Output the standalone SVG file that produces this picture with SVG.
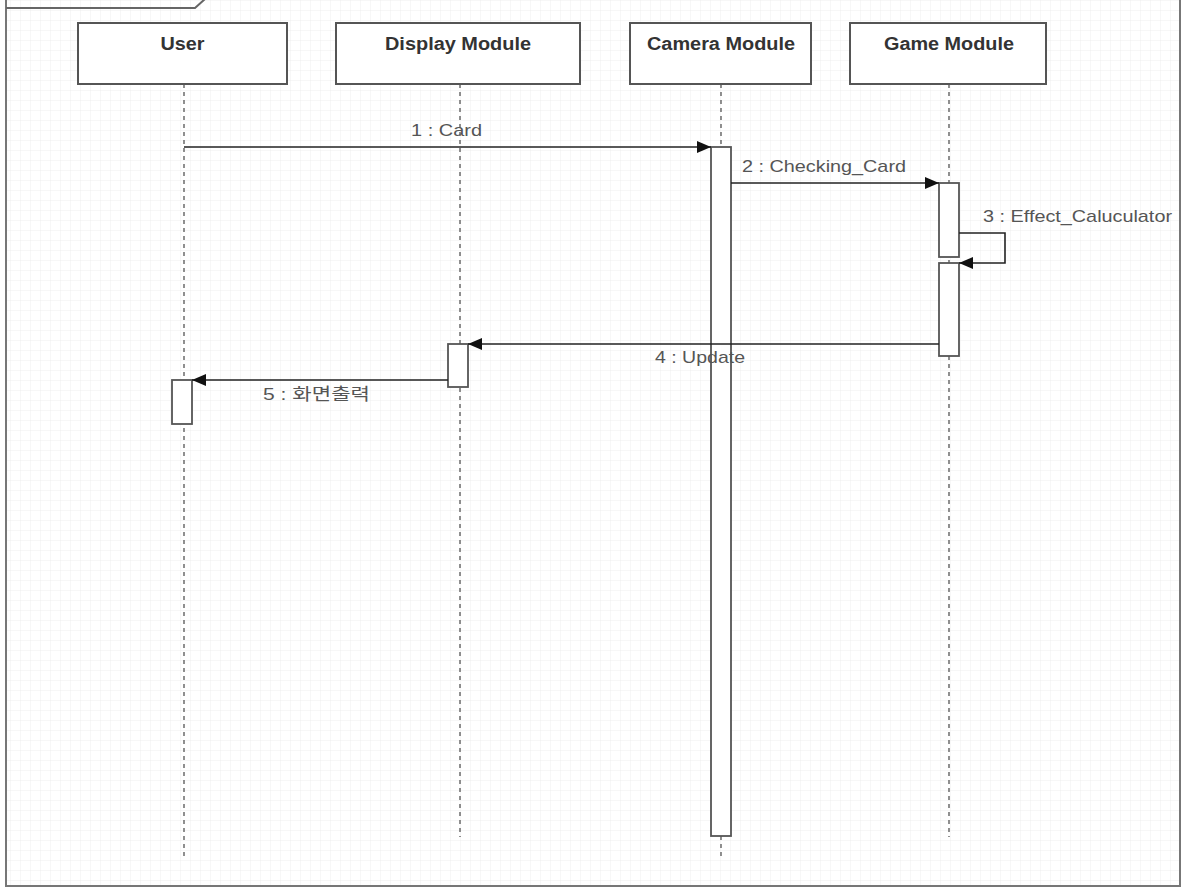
<svg xmlns="http://www.w3.org/2000/svg" width="1184" height="889" viewBox="0 0 1184 889">
<style>
.box{fill:#fff;stroke:#555;stroke-width:2}
.act{fill:#fff;stroke:#555;stroke-width:1.8}
.life{stroke:#555;stroke-width:1.3;stroke-dasharray:4 4;fill:none}
.msg{stroke:#222;stroke-width:1.6;fill:none}
.hdr{font-family:"Liberation Sans",Arial,sans-serif;font-weight:bold;font-size:18px;fill:#333;text-anchor:middle}
.lbl{font-family:"Liberation Sans","Noto Sans CJK KR",Arial,sans-serif;font-size:17px;fill:#555}
</style>
<defs>
<pattern id="grid" width="10" height="10" patternUnits="userSpaceOnUse">
<path d="M10 0H0V10" fill="none" stroke="#ececec" stroke-width="0.8"/>
</pattern>
<marker id="arr" markerWidth="14" markerHeight="12" refX="14" refY="6" orient="auto" markerUnits="userSpaceOnUse">
<path d="M0,0 L14,6 L0,12 Z" fill="#111"/>
</marker>
</defs>
<rect x="0" y="0" width="1184" height="889" fill="#fff"/>
<rect x="6" y="0" width="1174" height="886" fill="url(#grid)"/>
<g id="frame">
<rect x="6" y="-4" width="1174" height="890" fill="none" stroke="#777" stroke-width="2"/>
<path d="M6 8 H195 L205 -1" fill="none" stroke="#666" stroke-width="2"/>
</g>
<g id="lifelines">
<line class="life" x1="184" y1="84" x2="184" y2="857"/>
<line class="life" x1="460" y1="84" x2="460" y2="837"/>
<line class="life" x1="721" y1="84" x2="721" y2="857"/>
<line class="life" x1="949" y1="84" x2="949" y2="837"/>
</g>
<g id="user"><rect class="box" x="78" y="23" width="209" height="61"/><text class="hdr" x="182.5" y="50" textLength="44" lengthAdjust="spacingAndGlyphs">User</text></g>
<g id="display"><rect class="box" x="336" y="23" width="244" height="61"/><text class="hdr" x="458" y="50" textLength="146" lengthAdjust="spacingAndGlyphs">Display Module</text></g>
<g id="camera"><rect class="box" x="630" y="23" width="181" height="61"/><text class="hdr" x="721" y="50" textLength="148" lengthAdjust="spacingAndGlyphs">Camera Module</text></g>
<g id="game"><rect class="box" x="850" y="23" width="196" height="61"/><text class="hdr" x="949" y="50" textLength="130" lengthAdjust="spacingAndGlyphs">Game Module</text></g>
<g id="activations">
<rect class="act" x="711" y="147" width="20" height="689"/>
<rect class="act" x="939" y="183" width="20" height="74"/>
<rect class="act" x="939" y="263" width="20" height="93"/>
<rect class="act" x="448" y="344" width="20" height="43"/>
<rect class="act" x="172" y="380" width="20" height="44"/>
</g>
<g id="connectors">
<line class="msg" x1="184" y1="147" x2="711" y2="147" marker-end="url(#arr)"/>
<line class="msg" x1="731" y1="183" x2="939" y2="183" marker-end="url(#arr)"/>
<path class="msg" d="M959 233 H1005 V263 H959" marker-end="url(#arr)"/>
<line class="msg" x1="939" y1="344" x2="468" y2="344" marker-end="url(#arr)"/>
<line class="msg" x1="448" y1="380" x2="192" y2="380" marker-end="url(#arr)"/>
</g>
<g id="labels">
<text class="lbl" x="411" y="136" textLength="71" lengthAdjust="spacingAndGlyphs">1 : Card</text>
<text class="lbl" x="742" y="172" textLength="164" lengthAdjust="spacingAndGlyphs">2 : Checking_Card</text>
<text class="lbl" x="983" y="222" textLength="189" lengthAdjust="spacingAndGlyphs">3 : Effect_Caluculator</text>
<text class="lbl" x="655" y="363" textLength="90" lengthAdjust="spacingAndGlyphs">4 : Update</text>
<text class="lbl" x="263" y="400" textLength="107" lengthAdjust="spacingAndGlyphs">5 : 화면출력</text>
</g>
</svg>
